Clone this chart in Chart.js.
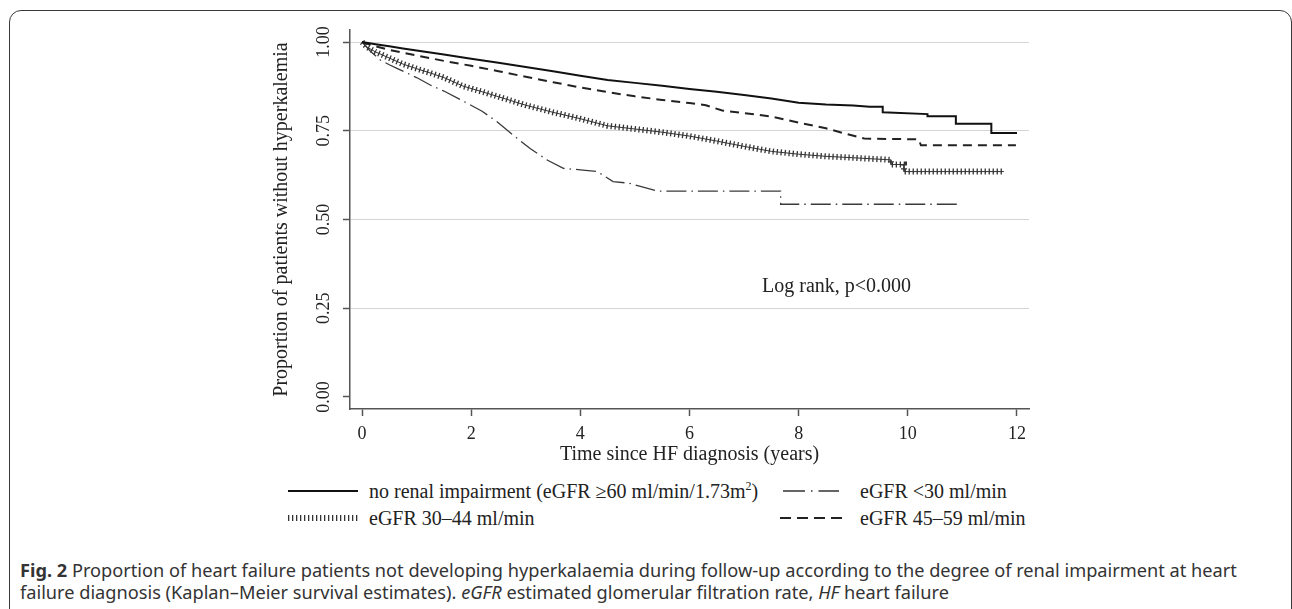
<!DOCTYPE html>
<html>
<head>
<meta charset="utf-8">
<script src="https://cdn.jsdelivr.net/npm/chart.js@4.4.1/dist/chart.umd.min.js"></script>
<style>
  body { margin: 0; background: #fff; width: 1292px; height: 609px; overflow: hidden; position: relative; font-family: "Liberation Serif", serif; color: #222; }
  #frame { position: absolute; left: 9px; top: 10px; width: 1281px; height: 700px; border: 1.5px solid #3a3a3a; border-radius: 12px; }
  #chart { position: absolute; left: 0; top: 0; }
  .note { position: absolute; font-size: 20px; line-height: 24px; white-space: nowrap; }
  .leg { position: absolute; font-size: 20px; line-height: 24px; white-space: nowrap; }
  .sample { position: absolute; }
  #caption { position: absolute; left: 20px; top: 559px; font-family: "Noto Sans", sans-serif; font-size: 18.2px; line-height: 22px; color: #333; white-space: nowrap; }
</style>
</head>
<body>
<div id="frame"></div>
<canvas id="chart" width="1292" height="470"></canvas>

<div class="note" style="left:762px; top:273px;">Log rank, p&lt;0.000</div>

<svg class="sample" style="left:288px; top:486px;" width="70" height="10"><line x1="0" y1="5" x2="70" y2="5" stroke="#111" stroke-width="1.8"/></svg>
<div class="leg" style="left:369px; top:479px;">no renal impairment (eGFR ≥60 ml/min/1.73m<sup style="font-size:12px; line-height:0;">2</sup>)</div>
<svg class="sample" style="left:783px; top:486px;" width="56" height="10"><line x1="0" y1="5" x2="56" y2="5" stroke="#333" stroke-width="1.3" stroke-dasharray="22,6,1.5,6"/></svg>
<div class="leg" style="left:860px; top:479px;">eGFR &lt;30 ml/min</div>

<svg class="sample" style="left:288px; top:513px;" width="70" height="10"><line x1="0" y1="5" x2="70" y2="5" stroke="#333" stroke-width="6" stroke-dasharray="1.3,2.7"/></svg>
<div class="leg" style="left:369px; top:506px;">eGFR 30–44 ml/min</div>
<svg class="sample" style="left:780px; top:513px;" width="62" height="10"><line x1="0" y1="5" x2="62" y2="5" stroke="#222" stroke-width="1.8" stroke-dasharray="11,6"/></svg>
<div class="leg" style="left:860px; top:506px;">eGFR 45–59 ml/min</div>

<div id="caption"><b>Fig. 2</b> Proportion of heart failure patients not developing hyperkalaemia during follow-up according to the degree of renal impairment at heart<br>failure diagnosis (Kaplan–Meier survival estimates). <i>eGFR</i> estimated glomerular filtration rate, <i>HF</i> heart failure</div>

<script>
const xTicks = [0, 2, 4, 6, 8, 10, 12];
const yTicks = [0, 0.25, 0.5, 0.75, 1];

// Kaplan-Meier estimates (repeated x = vertical drop)
const noRenalYears = [0, 0.25, 0.5, 0.75, 1, 1.5, 2, 2.5, 3, 3.5, 4, 4.5, 5, 5.5, 6, 6.5, 7, 7.5, 8, 8.5, 9, 9.3, 9.54, 9.54, 10.36, 10.36, 10.88, 10.88, 11.53, 11.53, 12.0];
const noRenalSurv = [1, 0.994, 0.988, 0.982, 0.976, 0.965, 0.953, 0.942, 0.930, 0.918, 0.905, 0.893, 0.885, 0.877, 0.868, 0.860, 0.851, 0.841, 0.829, 0.824, 0.821, 0.818, 0.818, 0.802, 0.797, 0.791, 0.791, 0.770, 0.770, 0.744, 0.744];

const egfr4559Years = [0, 0.25, 0.5, 0.75, 1, 1.5, 2, 2.5, 3, 3.5, 4, 4.5, 5, 5.5, 6, 6.3, 6.6, 7, 7.5, 8, 8.5, 8.9, 9.2, 10.2, 10.24, 11.98];
const egfr4559Surv = [1, 0.988, 0.978, 0.970, 0.962, 0.947, 0.933, 0.918, 0.902, 0.887, 0.872, 0.859, 0.847, 0.837, 0.828, 0.822, 0.807, 0.800, 0.790, 0.773, 0.757, 0.740, 0.728, 0.726, 0.709, 0.709];

const egfr3044Years = [0, 0.1, 0.25, 0.5, 0.75, 1, 1.25, 1.5, 1.85, 2.2, 2.5, 3, 3.5, 4, 4.5, 5, 5.5, 6, 6.5, 7, 7.5, 8, 8.5, 9, 9.69, 9.69, 9.93, 9.93, 11.76];
const egfr3044Surv = [1, 0.985, 0.972, 0.955, 0.938, 0.925, 0.913, 0.900, 0.876, 0.860, 0.846, 0.822, 0.802, 0.784, 0.764, 0.755, 0.746, 0.735, 0.721, 0.706, 0.692, 0.684, 0.678, 0.674, 0.668, 0.655, 0.655, 0.635, 0.635];

const egfrLt30Years = [0, 0.15, 0.33, 0.5, 0.64, 1, 1.25, 1.5, 1.85, 2.2, 2.48, 2.75, 3.08, 3.4, 3.69, 4.0, 4.31, 4.6, 4.9, 5.1, 5.41, 7.67, 7.67, 10.94];
const egfrLt30Surv = [1, 0.975, 0.950, 0.936, 0.926, 0.900, 0.879, 0.862, 0.834, 0.805, 0.775, 0.740, 0.700, 0.667, 0.644, 0.640, 0.635, 0.607, 0.602, 0.593, 0.580, 0.580, 0.543, 0.543];

const serif = 'Liberation Serif';
const pts = (xs, ys) => xs.map((x, i) => ({ x: x, y: ys[i] }));

const ctx = document.getElementById('chart').getContext('2d');
new Chart(ctx, {
    type: 'line',
    data: {
        datasets: [
            { label: 'no renal impairment', data: pts(noRenalYears, noRenalSurv), borderColor: '#111', borderWidth: 2 },
            { label: 'eGFR 45–59 ml/min', data: pts(egfr4559Years, egfr4559Surv), borderColor: '#222', borderWidth: 2, borderDash: [9, 6] },
            { label: 'eGFR 30–44 ml/min', data: pts(egfr3044Years, egfr3044Surv), borderColor: '#333', borderWidth: 1 },
            { label: 'eGFR 30–44 ticks', data: pts(egfr3044Years, egfr3044Surv), borderColor: '#333', borderWidth: 6, borderDash: [1.3, 2.7] },
            { label: 'eGFR <30 ml/min', data: pts(egfrLt30Years, egfrLt30Surv), borderColor: '#3a3a3a', borderWidth: 1.3, borderDash: [20, 5, 1.5, 5] }
        ]
    },
    options: {
        responsive: false,
        animation: false,
        layout: { padding: { left: 262, right: 263, top: 30, bottom: 3 } },
        elements: { point: { radius: 0 }, line: { tension: 0, fill: false } },
        plugins: { legend: { display: false }, tooltip: { enabled: false } },
        scales: {
            x: {
                type: 'linear',
                min: -0.22,
                max: 12.22,
                afterBuildTicks: s => { s.ticks = xTicks.map(v => ({ value: v })); },
                afterFit: s => { s.height = 58; },
                border: { color: '#555', width: 1.5 },
                grid: { drawOnChartArea: false, drawTicks: true, tickLength: 7, tickColor: '#555', tickWidth: 1.5 },
                ticks: { padding: 7, maxRotation: 0, color: '#222', font: { family: serif, size: 18 } },
                title: { display: true, text: 'Time since HF diagnosis (years)', color: '#222', font: { family: serif, size: 20 }, padding: 0 }
            },
            y: {
                type: 'linear',
                min: -0.034,
                max: 1.034,
                afterBuildTicks: s => { s.ticks = yTicks.map(v => ({ value: v })); },
                afterFit: s => { s.width = 88; },
                border: { color: '#555', width: 1.5 },
                grid: {
                    color: c => (c.tick && c.tick.value === 0) ? 'rgba(0,0,0,0)' : '#d4d4d4',
                    lineWidth: 1, tickLength: 7, tickColor: '#555', tickWidth: 1.5
                },
                ticks: { minRotation: 90, maxRotation: 90, crossAlign: 'center', padding: 3, color: '#222', font: { family: serif, size: 18 }, callback: v => v.toFixed(2) },
                title: { display: true, text: 'Proportion of patients without hyperkalemia', color: '#222', font: { family: serif, size: 20 }, padding: { top: 8, bottom: 0 } }
            }
        }
    }
});
</script>
</body>
</html>
